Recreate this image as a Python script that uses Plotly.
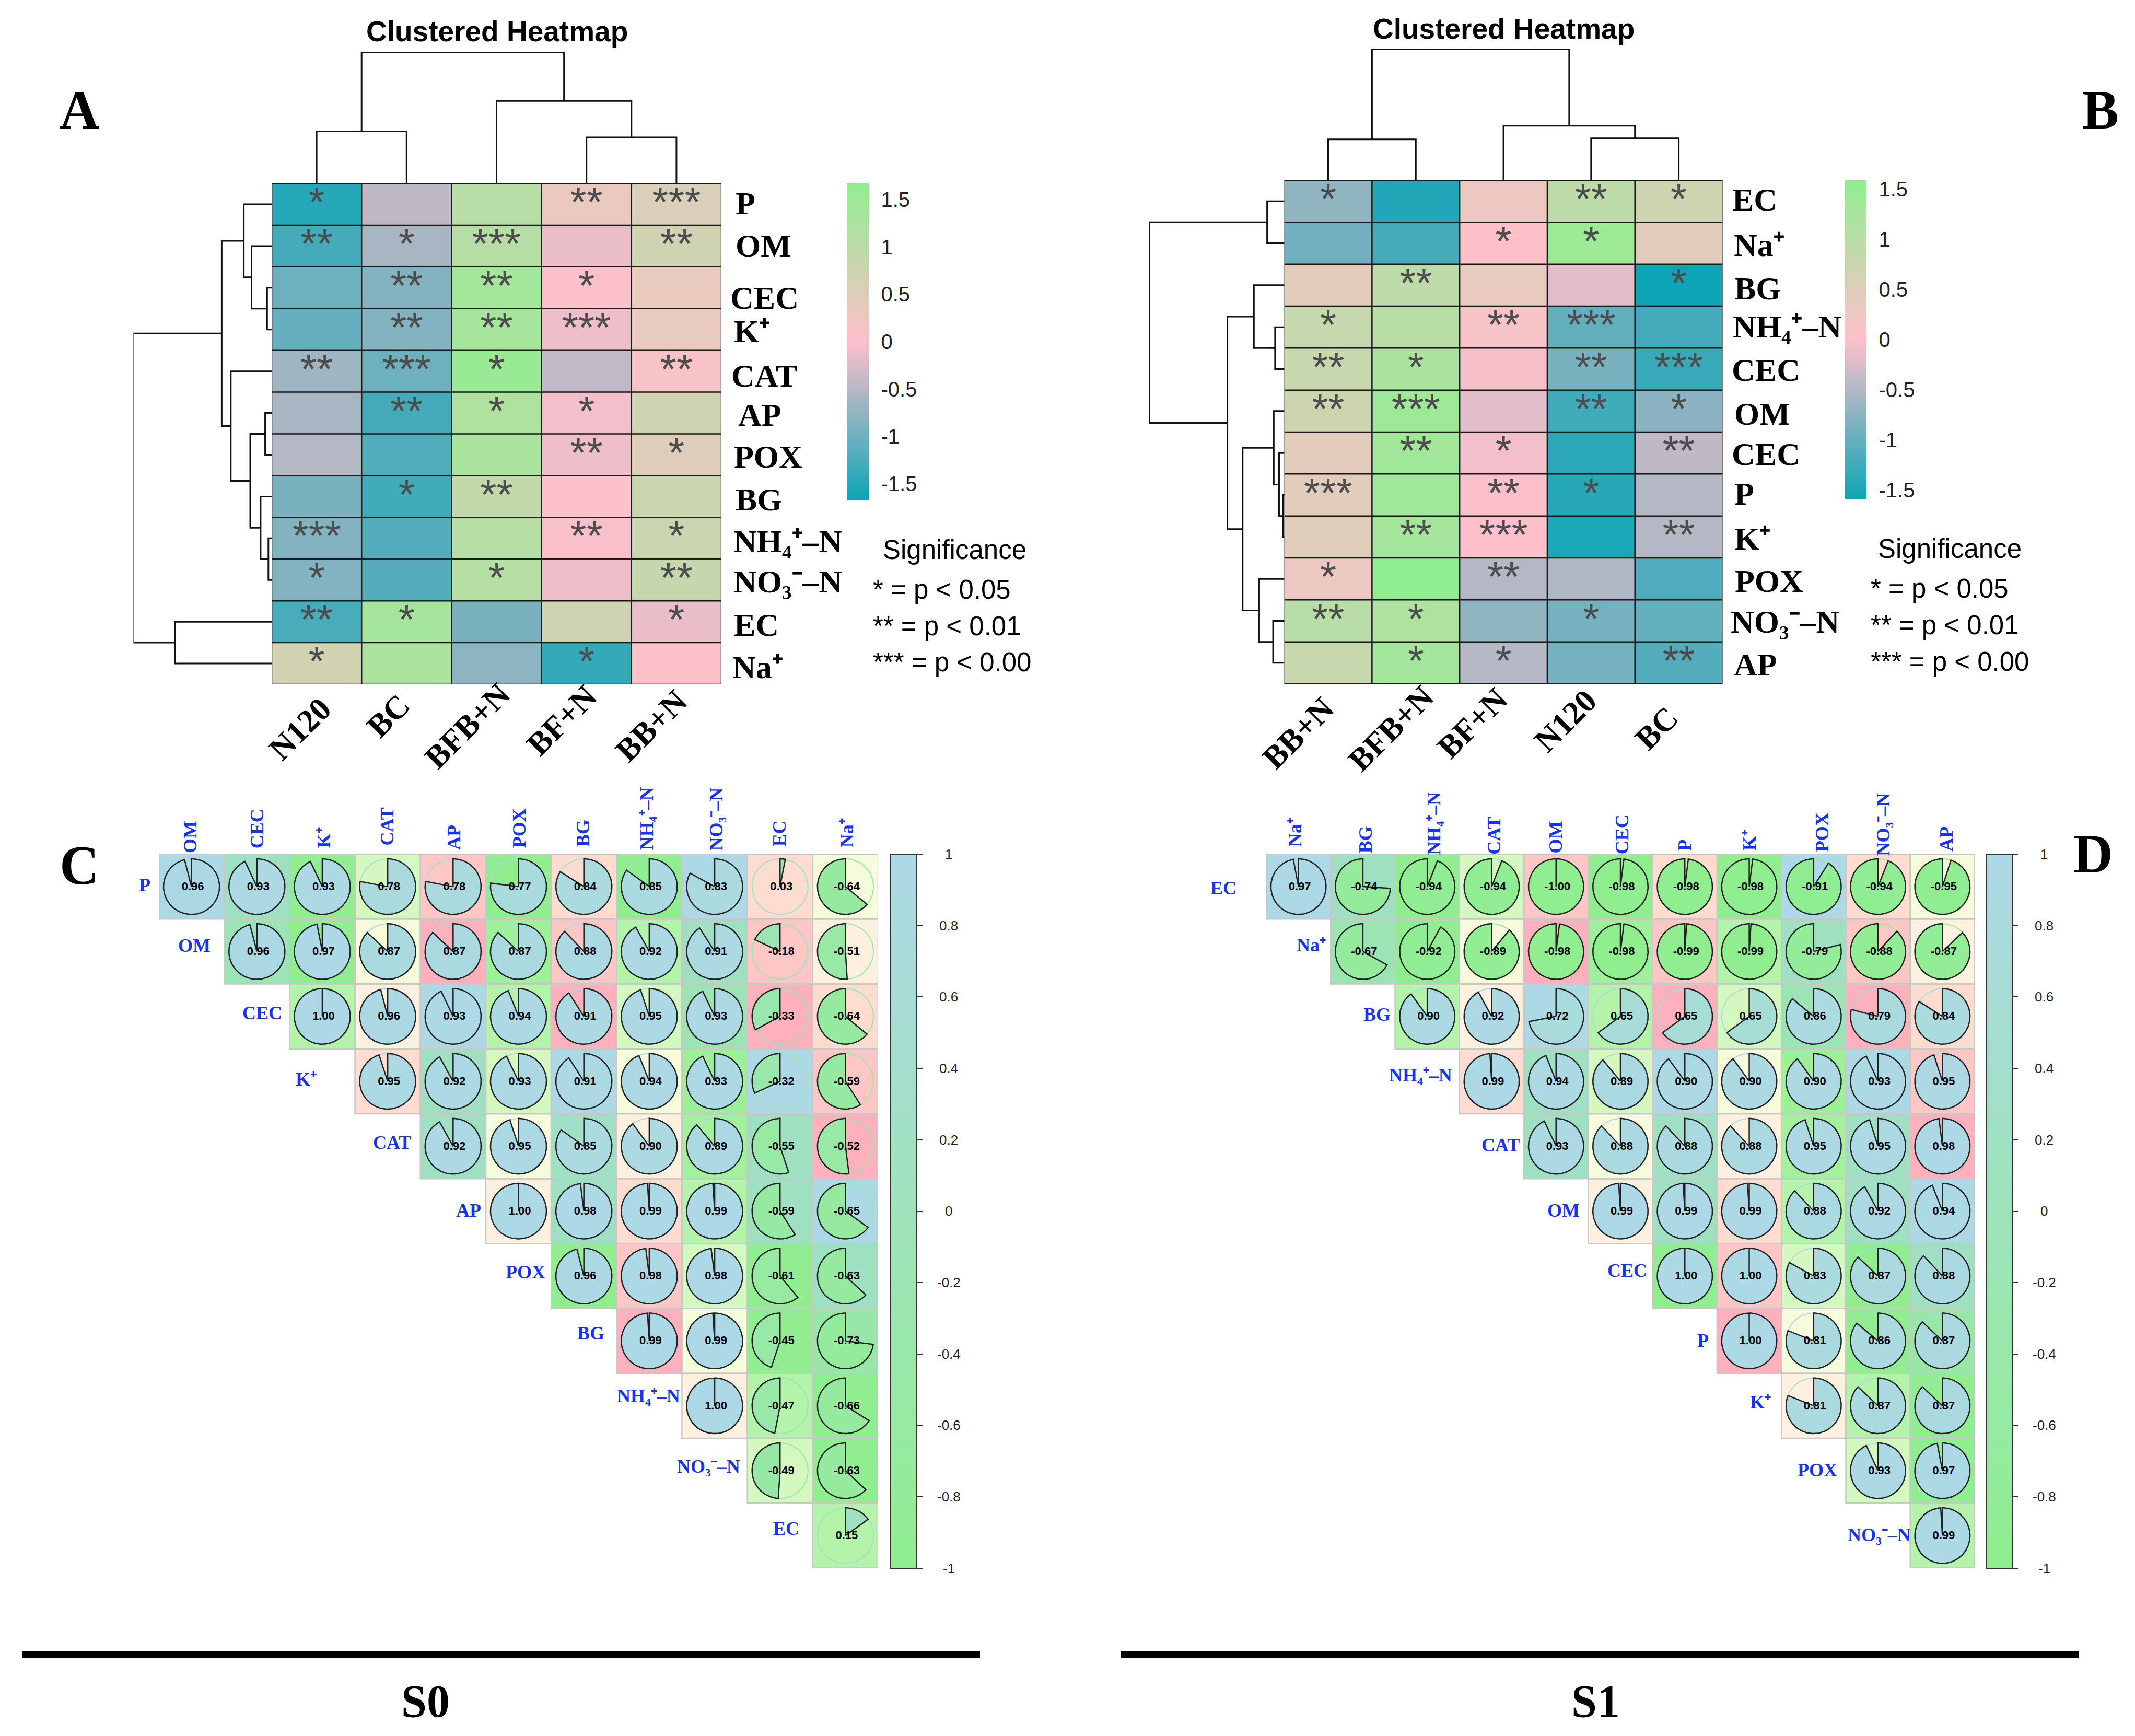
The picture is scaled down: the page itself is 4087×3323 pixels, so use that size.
import math
import plotly.graph_objects as go

W, H = 4087, 3323

# ---------- data ----------
K_ION, NA_ION, NH4, NO3 = "K⁺", "Na⁺", "NH₄⁺–N", "NO₃⁻–N"
A_cols = ["N120", "BC", "BFB+N", "BF+N", "BB+N"]
A_rows = ["P", "OM", "CEC", K_ION, "CAT", "AP", "POX", "BG", NH4, NO3, "EC", NA_ION]
A_z = [
    [-1.50, -0.45, 1.05, 0.30, 0.55],
    [-1.28, -0.60, 1.10, -0.15, 0.70],
    [-1.00, -0.85, 1.40, -0.02, 0.35],
    [-1.05, -0.85, 1.32, -0.12, 0.35],
    [-0.65, -1.00, 1.55, -0.42, 0.12],
    [-0.60, -1.28, 1.18, -0.08, 0.70],
    [-0.52, -1.20, 1.28, -0.12, 0.50],
    [-0.92, -1.30, 0.90, 0.03, 0.80],
    [-0.85, -1.18, 1.08, -0.04, 0.78],
    [-0.85, -1.17, 1.12, -0.12, 0.85],
    [-1.25, 1.35, -0.92, 0.70, -0.15],
    [0.68, 1.25, -0.78, -1.40, 0.03],
]
A_stars = [
    ["*", "", "", "**", "***"],
    ["**", "*", "***", "", "**"],
    ["", "**", "**", "*", ""],
    ["", "**", "**", "***", ""],
    ["**", "***", "*", "", "**"],
    ["", "**", "*", "*", ""],
    ["", "", "", "**", "*"],
    ["", "*", "**", "", ""],
    ["***", "", "", "**", "*"],
    ["*", "", "*", "", "**"],
    ["**", "*", "", "", "*"],
    ["*", "", "", "*", ""],
]
A_col_merges = [[0, 1, 104], [3, 4, 92], [2, 6, 165], [5, 7, 263]]
A_row_merges = [[2, 3, 7], [1, 12, 31], [0, 13, 43], [8, 9, 5], [7, 15, 17], [5, 6, 10],
                [17, 16, 33], [4, 18, 63], [14, 19, 77], [10, 11, 149], [20, 21, 213]]

B_cols = ["BB+N", "BFB+N", "BF+N", "N120", "BC"]
B_rows = ["EC", NA_ION, "BG", NH4, "CEC", "OM", "CEC", "P", K_ION, "POX", NO3, "AP"]
B_z = [
    [-0.72, -1.45, 0.25, 0.95, 0.72],
    [-0.92, -1.22, 0.02, 1.42, 0.42],
    [0.40, 0.92, 0.33, -0.20, -1.58],
    [0.82, 1.02, 0.12, -1.02, -1.22],
    [0.78, 1.20, -0.05, -0.88, -1.30],
    [0.72, 1.40, -0.18, -1.25, -0.75],
    [0.40, 1.35, -0.08, -1.38, -0.42],
    [0.42, 1.35, -0.02, -1.42, -0.50],
    [0.45, 1.28, 0.00, -1.50, -0.47],
    [0.28, 1.58, -0.50, -0.52, -1.15],
    [1.00, 1.15, -0.72, -0.90, -1.02],
    [0.78, 1.30, -0.48, -0.90, -1.12],
]
B_stars = [
    ["*", "", "", "**", "*"],
    ["", "", "*", "*", ""],
    ["", "**", "", "", "*"],
    ["*", "", "**", "***", ""],
    ["**", "*", "", "**", "***"],
    ["**", "***", "", "**", "*"],
    ["", "**", "*", "", "**"],
    ["***", "", "**", "*", ""],
    ["", "**", "***", "", "**"],
    ["*", "", "**", "", ""],
    ["**", "*", "", "*", ""],
    ["", "*", "*", "", "**"],
]
B_col_merges = [[0, 1, 82], [3, 4, 84], [2, 6, 109], [5, 7, 263]]
B_row_merges = [[0, 1, 26], [3, 4, 14], [2, 13, 46], [7, 8, 2], [6, 15, 8], [5, 16, 16],
                [10, 11, 17], [9, 18, 38], [17, 19, 63], [14, 20, 86], [12, 21, 204]]

C_cols = ["OM", "CEC", K_ION, "CAT", "AP", "POX", "BG", NH4, NO3, "EC", NA_ION]
C_rows = ["P", "OM", "CEC", K_ION, "CAT", "AP", "POX", "BG", NH4, NO3, "EC"]
C_r = [
    [.96, .93, .93, .78, .78, .77, .84, .85, .83, .03, -.64],
    [.96, .97, .87, .87, .87, .88, .92, .91, -.18, -.51],
    [1.00, .96, .93, .94, .91, .95, .93, -.33, -.64],
    [.95, .92, .93, .91, .94, .93, -.32, -.59],
    [.92, .95, .85, .90, .89, -.55, -.52],
    [1.00, .98, .99, .99, -.59, -.65],
    [.96, .98, .98, -.61, -.63],
    [.99, .99, -.45, -.73],
    [1.00, -.47, -.66],
    [-.49, -.63],
    [.15],
]

D_cols = [NA_ION, "BG", NH4, "CAT", "OM", "CEC", "P", K_ION, "POX", NO3, "AP"]
D_rows = ["EC", NA_ION, "BG", NH4, "CAT", "OM", "CEC", "P", K_ION, "POX", NO3]
D_r = [
    [.97, -.74, -.94, -.94, -1.00, -.98, -.98, -.98, -.91, -.94, -.95],
    [-.67, -.92, -.89, -.98, -.98, -.99, -.99, -.79, -.88, -.87],
    [.90, .92, .72, .65, .65, .65, .86, .79, .84],
    [.99, .94, .89, .90, .90, .90, .93, .95],
    [.93, .88, .88, .88, .95, .95, .98],
    [.99, .99, .99, .88, .92, .94],
    [1.00, 1.00, .83, .87, .88],
    [1.00, .81, .86, .87],
    [.81, .87, .87],
    [.93, .97],
    [.99],
]

# background tint index of every upper-triangle cell (shared by panels C and D)
tint = [
    [0, 1, 2, 4, 8, 2, 7, 2, 0, 7, 5],
    [1.3, 2, 5, 9, 2.4, 8, 3, 1, 8, 6],
    [3, 6, 0, 3, 9, 4, 1.3, 9, 7],
    [7, 1, 4, 0, 5, 2.3, 0, 8],
    [1, 5, 1, 6, 2.5, 1, 9],
    [6, 1, 7, 3, 1, 0],
    [2, 8, 4, 2, 1],
    [9, 5, 2, 1.5],
    [6, 3, 2],
    [4, 2],
    [3],
]
tint_palette = ["#ADD8E6", "#9FDFC2", "#90EE90", "#B4F3AA", "#D4F8C0",
                "#F6FBDC", "#FFF0DF", "#FFDCD0", "#FFC6C6", "#FFB0BC"]
heat_ticks = [-1.5, -1, -0.5, 0, 0.5, 1, 1.5]
corr_ticks = [-1, -0.8, -0.6, -0.4, -0.2, 0, 0.2, 0.4, 0.6, 0.8, 1]

# ---------- styles ----------
SANS = "Liberation Sans"
SERIF = "Liberation Serif"
BLUE = "#1533F0"
HEAT_SCALE = [[0, "#0CA5B6"], [0.5, "#FFC0CB"], [1, "#90EE90"]]
CORR_LOW, CORR_HIGH = (0x90, 0xEE, 0x90), (0xAD, 0xD8, 0xE6)
CORR_SCALE = [[0, "#90EE90"], [1, "#ADD8E6"]]
PIE_R = 0.428

fig = go.Figure()
layout = {}
annos = []
axis_no = [0]


def new_axes(x0, x1, y0, y1, xr, yr):
    axis_no[0] += 1
    i = axis_no[0]
    s = "" if i == 1 else str(i)
    layout["xaxis" + s] = dict(domain=[x0 / W, x1 / W], range=xr, visible=False,
                               anchor="y" + s, fixedrange=True)
    layout["yaxis" + s] = dict(domain=[1 - y1 / H, 1 - y0 / H], range=yr, visible=False,
                               anchor="x" + s, fixedrange=True)
    return "x" + s, "y" + s


def note(text, x, y, size, family=SANS, color="#000000", bold=False, angle=0, anchor="center"):
    t = "<b>" + text + "</b>" if bold else text
    annos.append(dict(text=t, x=x / W, y=1 - y / H, xref="paper", yref="paper", showarrow=False,
                      xanchor=anchor, yanchor="middle", textangle=angle,
                      font=dict(family=family, size=size, color=color)))


def dendro_paths(merges, n):
    pos = {i: float(i) for i in range(n)}
    hgt = {i: 0.0 for i in range(n)}
    paths = []
    for k, (a, b, h) in enumerate(merges):
        paths.append(((pos[a], hgt[a]), (pos[a], h), (pos[b], h), (pos[b], hgt[b])))
        pos[n + k] = (pos[a] + pos[b]) / 2
        hgt[n + k] = h
    return paths


def draw_dendro(merges, n, ax, horizontal):
    xs, ys = [], []
    for path in dendro_paths(merges, n):
        for p, h in path:
            xs.append(p if horizontal else h)
            ys.append(h if horizontal else p)
        xs.append(None)
        ys.append(None)
    fig.add_trace(go.Scatter(x=xs, y=ys, mode="lines", line=dict(color="#111111", width=3),
                             xaxis=ax[0], yaxis=ax[1], hoverinfo="skip", showlegend=False))


def heat_panel(z, stars, cols, rows, col_m, row_m, box, zlim, top, left, cbar):
    x0, x1, y0, y1 = box
    nr, nc = len(rows), len(cols)
    xr, yr = [-0.5, nc - 0.5], [nr - 0.5, -0.5]
    ax = new_axes(x0, x1, y0, y1, xr, yr)
    fig.add_trace(go.Heatmap(
        z=z, x=list(range(nc)), y=list(range(nr)), colorscale=HEAT_SCALE, zmin=-zlim, zmax=zlim,
        xaxis=ax[0], yaxis=ax[1], hoverinfo="z",
        colorbar=dict(x=cbar[0] / W, xanchor="left", y=1 - y0 / H, yanchor="top",
                      thickness=cbar[1] - cbar[0], thicknessmode="pixels",
                      len=cbar[2] - y0, lenmode="pixels", xpad=0, ypad=0, outlinewidth=0,
                      tickvals=heat_ticks, ticktext=[f"{v:g}" for v in heat_ticks],
                      ticks="outside", ticklen=16, tickcolor="rgba(0,0,0,0)",
                      tickfont=dict(family=SANS, size=40, color="#222222"))))
    gx, gy = [], []
    for j in range(nc + 1):
        gx += [j - 0.5, j - 0.5, None]
        gy += [yr[0], yr[1], None]
    for i in range(nr + 1):
        gx += [xr[0], xr[1], None]
        gy += [i - 0.5, i - 0.5, None]
    fig.add_trace(go.Scatter(x=gx, y=gy, mode="lines", line=dict(color="#1A1A1A", width=2.5),
                             xaxis=ax[0], yaxis=ax[1], hoverinfo="skip", showlegend=False))
    sx, sy, st = [], [], []
    for i, row in enumerate(stars):
        for j, s in enumerate(row):
            if s:
                sx.append(j)
                sy.append(i + 0.04)
                st.append(s)
    fig.add_trace(go.Scatter(x=sx, y=sy, text=st, mode="text", textposition="middle center",
                             textfont=dict(family=SANS, size=80, color="#4D4D4D"),
                             xaxis=ax[0], yaxis=ax[1], hoverinfo="skip", showlegend=False))
    top_ax = new_axes(x0, x1, top, y0, xr, [0, col_m[-1][2]])
    draw_dendro(col_m, nc, top_ax, True)
    left_ax = new_axes(left, x0, y0, y1, [row_m[-1][2], 0], yr)
    draw_dendro(row_m, nr, left_ax, False)


def pie_color(r):
    t = (r + 1) / 2
    c = [round(a + (b - a) * t) for a, b in zip(CORR_LOW, CORR_HIGH)]
    return f"rgb({c[0]},{c[1]},{c[2]})"


def corr_panel(r, box, cbar):
    x0, x1, y0, y1 = box
    n = len(r)
    ax = new_axes(x0, x1, y0, y1, [-0.5, n - 0.5], [n - 0.5, -0.5])
    grid = [[None] * i + list(row) for i, row in enumerate(tint)]
    steps = len(tint_palette) - 1
    fig.add_trace(go.Heatmap(
        z=grid, x=list(range(n)), y=list(range(n)), zmin=0, zmax=steps,
        colorscale=[[k / steps, c] for k, c in enumerate(tint_palette)], showscale=False,
        xaxis=ax[0], yaxis=ax[1], hoverinfo="skip", hoverongaps=False))
    gx, gy = [], []
    for i in range(n):
        for j in range(i, n):
            gx += [j - .5, j + .5, j + .5, j - .5, j - .5, None]
            gy += [i - .5, i - .5, i + .5, i + .5, i - .5, None]
    fig.add_trace(go.Scatter(x=gx, y=gy, mode="lines", line=dict(color="#C8C8C8", width=2.5),
                             xaxis=ax[0], yaxis=ax[1], hoverinfo="skip", showlegend=False))
    cx, cy, cv = [], [], []
    for i, row in enumerate(r):
        for k, v in enumerate(row):
            j = i + k
            col = pie_color(v)
            rx = [j + PIE_R * math.sin(2 * math.pi * a / 120) for a in range(121)]
            ry = [i - PIE_R * math.cos(2 * math.pi * a / 120) for a in range(121)]
            fig.add_trace(go.Scatter(x=rx, y=ry, mode="lines", line=dict(color=col, width=2),
                                     xaxis=ax[0], yaxis=ax[1], hoverinfo="skip", showlegend=False))
            m = max(2, int(abs(v) * 120) + 1)
            sign = 1 if v >= 0 else -1
            wx, wy = [j], [i]
            for a in range(m):
                th = sign * 2 * math.pi * abs(v) * a / (m - 1)
                wx.append(j + PIE_R * math.sin(th))
                wy.append(i - PIE_R * math.cos(th))
            wx.append(j)
            wy.append(i)
            fig.add_trace(go.Scatter(x=wx, y=wy, mode="lines", fill="toself", fillcolor=col,
                                     line=dict(color="#222222", width=2.5),
                                     xaxis=ax[0], yaxis=ax[1], hoverinfo="skip", showlegend=False))
            cx.append(j)
            cy.append(i)
            cv.append(v)
    fig.add_trace(go.Scatter(
        x=cx, y=cy, mode="markers",
        marker=dict(size=2, opacity=0, color=cv, colorscale=CORR_SCALE, cmin=-1, cmax=1, showscale=True,
                    colorbar=dict(x=cbar[0] / W, xanchor="left", y=1 - y0 / H, yanchor="top",
                                  thickness=cbar[1] - cbar[0], thicknessmode="pixels",
                                  len=y1 - y0, lenmode="pixels", xpad=0, ypad=0,
                                  outlinewidth=2, outlinecolor="#333333",
                                  tickvals=corr_ticks, ticks="outside", ticklen=10, tickwidth=2,
                                  tickcolor="#333333", showticklabels=False)),
        xaxis=ax[0], yaxis=ax[1], hoverinfo="skip", showlegend=False))
    fig.add_trace(go.Scatter(
        x=[v + 0.02 for v in cx], y=[v + 0.01 for v in cy], text=[f"{v:.2f}" for v in cv],
        mode="text", textposition="middle center",
        textfont=dict(family=SANS, size=22, color="#000000", weight="bold"),
        xaxis=ax[0], yaxis=ax[1], hoverinfo="skip", showlegend=False))
    for v in corr_ticks:
        note(f"{v:g}", cbar[2], y0 + (y1 - y0) * (1 - v) / 2, 26, color="#222222")


# ---------- panels ----------
heat_panel(A_z, A_stars, A_cols, A_rows, A_col_merges, A_row_merges,
           (520, 1381, 351, 1310), 1.67, 99.5, 255.5, (1621, 1663, 957))
heat_panel(B_z, B_stars, B_cols, B_rows, B_col_merges, B_row_merges,
           (2458.6, 3297.5, 345, 1309), 1.59, 93.7, 2200, (3532, 3572.5, 955))
corr_panel(C_r, (304, 1681, 1635, 3001.5), (1705, 1754.5, 1816))
corr_panel(D_r, (2424, 3780, 1635, 3001.5), (3803, 3852, 3913))

# ---------- text ----------
note("Clustered Heatmap", 951, 60, 55, bold=True)
note("Clustered Heatmap", 2878, 54.5, 55, bold=True)

zx1, zxk = 100, 1950 / 1568
zy = 1500 / 1568
A_lab_left = [1050, 1050, 1042, 1048, 1044, 1054, 1048, 1050, 1047, 1047, 1048, 1045]
A_lab_y = [407, 491, 596, 663, 752, 830, 914, 999, 1083, 1163, 1250, 1335]
for t, lx, ly in zip(A_rows, A_lab_left, A_lab_y):
    note(t, zx1 + lx * zxk, ly * zy, 62, SERIF, bold=True, anchor="left")
A_xl = [(381, 1458), (517, 1432), (639, 1452), (784, 1442), (922, 1452)]
for t, (lx, ly) in zip(A_cols, A_xl):
    note(t, zx1 + lx * zxk, ly * zy, 62, SERIF, bold=True, angle=-45)

zx2, zxk2 = 2100, 1987 / 1568
B_lab_left = [958, 960, 961, 959, 957, 961, 957, 961, 961, 962, 956, 960]
B_lab_y = [399, 490, 577, 653, 740, 828, 908, 988, 1078, 1162, 1244, 1330]
for t, lx, ly in zip(B_rows, B_lab_left, B_lab_y):
    note(t, zx2 + lx * zxk2, ly * zy, 62, SERIF, bold=True, anchor="left")
B_xl = [(304, 1467), (444, 1457), (567, 1447), (708, 1442), (845, 1457)]
for t, (lx, ly) in zip(B_cols, B_xl):
    note(t, zx2 + lx * zxk2, ly * zy, 62, SERIF, bold=True, angle=-45)

# significance legends
for (cx, ty, lx, ys) in [(1827, 1052, 1669, (1129, 1198, 1267)), (3732, 1050, 3579, (1127, 1196, 1266))]:
    note("Significance", cx, ty, 51)
    for s, yy in zip(["* = p < 0.05", "** = p < 0.01", "*** = p < 0.00"], ys):
        note(s, lx, yy, 51, anchor="left")

# corr labels
k = 0.6378
ky = 0.5102
C_cl = [(100 + k * 414, 200), (100 + k * 614, 170), (100 + k * 815, 203), (100 + k * 1005, 160),
        (100 + k * 1205, 203), (100 + k * 1401, 168), (1000 + k * 182, 186), (1000 + k * 373, 130),
        (1000 + k * 581, 133), (1000 + k * 772, 186), (1000 + k * 975, 185)]
for t, (lx, ly) in zip(C_cols, C_cl):
    note(t, lx, 1500 + ky * ly, 36, SERIF, BLUE, True, -90)
C_rl = [(277, 1694), (372, 1810), (502, 1939), (586, 2066), (750, 2187), (897, 2317), (1006, 2435),
        (1131, 2552), (1241, 2672), (1356, 2807), (1505, 2926)]
for t, (lx, ly) in zip(C_rows, C_rl):
    note(t, lx, ly, 36, SERIF, BLUE, True)
D_cl = [(2250 + k * 360, 183), (2250 + k * 571, 210), (2250 + k * 775, 150), (2250 + k * 957, 195),
        (2250 + k * 1142, 200), (2250 + k * 1341, 190), (3087 + k * 217, 230), (3087 + k * 411, 212),
        (3087 + k * 630, 183), (3087 + k * 812, 152), (3087 + k * 1002, 207)]
for t, (lx, ly) in zip(D_cols, D_cl):
    note(t, lx, 1500 + ky * ly, 36, SERIF, BLUE, True, -90)
D_rl = [(2342, 1700), (2510, 1809), (2636, 1942), (2719, 2058), (2872, 2192), (2993, 2317), (3115, 2432),
        (3260, 2566), (3370, 2684), (3479, 2814), (3597, 2938)]
for t, (lx, ly) in zip(D_rows, D_rl):
    note(t, lx, ly, 36, SERIF, BLUE, True)

# panel letters and group captions
for t, lx, ly in [("A", 152, 210), ("B", 4021, 210), ("C", 152, 1656), ("D", 4007, 1634)]:
    note(t, lx, ly, 105, SERIF, bold=True)
note("S0", 814, 3256, 88, SERIF, bold=True)
note("S1", 3054, 3256, 88, SERIF, bold=True)

shapes = [dict(type="rect", xref="paper", yref="paper", x0=a / W, x1=b / W, y0=1 - 3174 / H, y1=1 - 3160 / H,
               fillcolor="#000000", line=dict(width=0)) for a, b in [(42, 1876), (2145, 3980)]]

fig.update_layout(width=W, height=H, margin=dict(l=0, r=0, t=0, b=0, pad=0, autoexpand=False),
                  paper_bgcolor="#FFFFFF", plot_bgcolor="rgba(0,0,0,0)", showlegend=False,
                  annotations=annos, shapes=shapes, **layout)
fig.write_html("out.html", config=dict(displayModeBar=False),
               post_script="document.body.style.margin='0';document.body.style.overflow='hidden';")
